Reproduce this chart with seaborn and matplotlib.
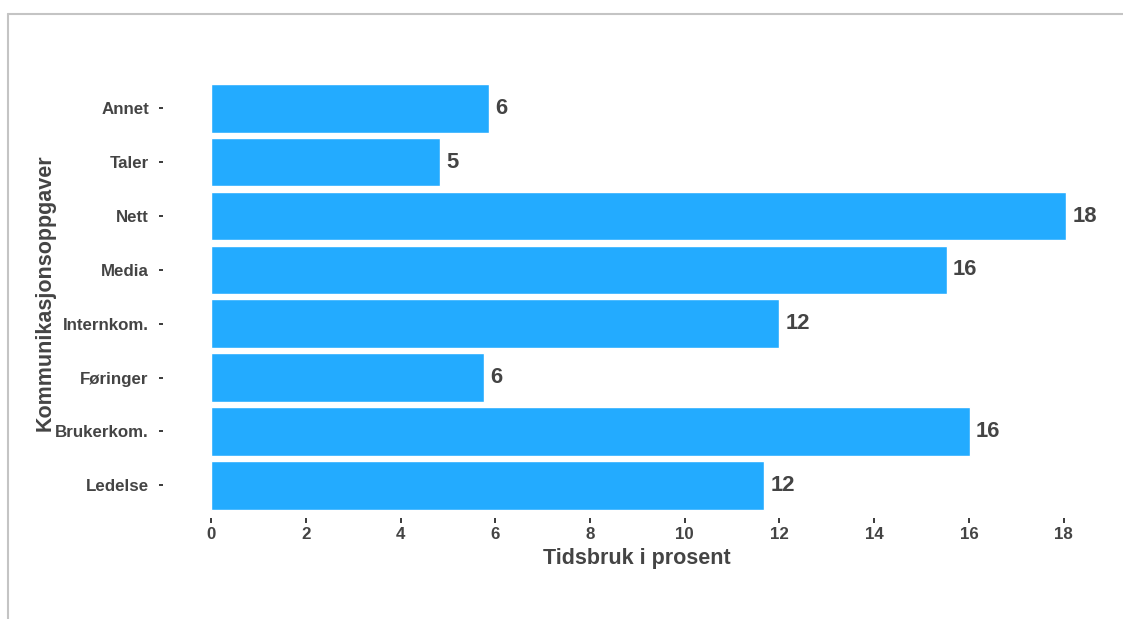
import matplotlib
matplotlib.use("Agg")
import matplotlib.pyplot as plt
from matplotlib.lines import Line2D
import seaborn as sns
import pandas as pd

# Share of working time per communication task (percent)
categories = ["Annet", "Taler", "Nett", "Media", "Internkom.",
              "Føringer", "Brukerkom.", "Ledelse"]
values = [5.86, 4.83, 18.05, 15.53, 12.0, 5.76, 16.02, 11.68]
x_ticks = [0, 2, 4, 6, 8, 10, 12, 14, 16, 18]

x_title = "Tidsbruk i prosent"
y_title = "Kommunikasjonsoppgaver"

df = pd.DataFrame({"oppgave": categories, "prosent": values})

sns.set_theme(style="white")
plt.rcParams["font.family"] = ["Liberation Sans", "DejaVu Sans"]
plt.rcParams["font.weight"] = "bold"

TEXT = "#444444"
BAR = "#23ABFF"

W, H = 1123, 619
fig = plt.figure(figsize=(W / 100, H / 100), dpi=100)
fig.patch.set_facecolor("white")

left, right, top, bottom = 163, 1110, 76, 517.6
ax = fig.add_axes([left / W, (H - bottom) / H, (right - left) / W, (bottom - top) / H])

sns.barplot(data=df, x="prosent", y="oppgave", order=categories, orient="h",
            color=BAR, saturation=1, width=0.9, errorbar=None, ax=ax)

ax.bar_label(ax.containers[0], fmt="%.0f", padding=4.5,
             fontsize=15.8, fontweight="bold", color=TEXT)

ax.set_xlim(-1.02, 18.98)
ax.set_ylim(len(categories) - 0.4, -0.6)
ax.set_xticks(x_ticks)
ax.set_xticklabels([str(t) for t in x_ticks])

for s in ax.spines.values():
    s.set_visible(False)

ax.tick_params(axis="x", bottom=True, length=3.4, width=1.4, color="#3a3a3a",
               labelsize=12.2, labelcolor=TEXT, pad=3.5)
ax.tick_params(axis="y", left=True, length=3.2, width=1.4, color="#3a3a3a",
               labelsize=12.2, labelcolor=TEXT, pad=7)
for lab in ax.get_xticklabels() + ax.get_yticklabels():
    lab.set_fontweight("bold")

ax.set_xlabel(x_title, fontsize=15.5, fontweight="bold", color=TEXT, va="center")
ax.xaxis.set_label_coords(0.5, -0.0926)
ax.set_ylabel(y_title, fontsize=15.5, fontweight="bold", color=TEXT, va="center")
ax.yaxis.set_label_coords((45 - left) / (right - left), 0.51)

# Light frame along the top and left edges of the figure
fy = 1 - 13.7 / H
fx = 8.3 / W
fig.add_artist(Line2D([fx, 1.0], [fy, fy], transform=fig.transFigure,
                      color="#c4c4c4", lw=1.5))
fig.add_artist(Line2D([fx, fx], [0.0, fy], transform=fig.transFigure,
                      color="#c4c4c4", lw=1.5))

fig.savefig("out.png", dpi=100, facecolor="white")
